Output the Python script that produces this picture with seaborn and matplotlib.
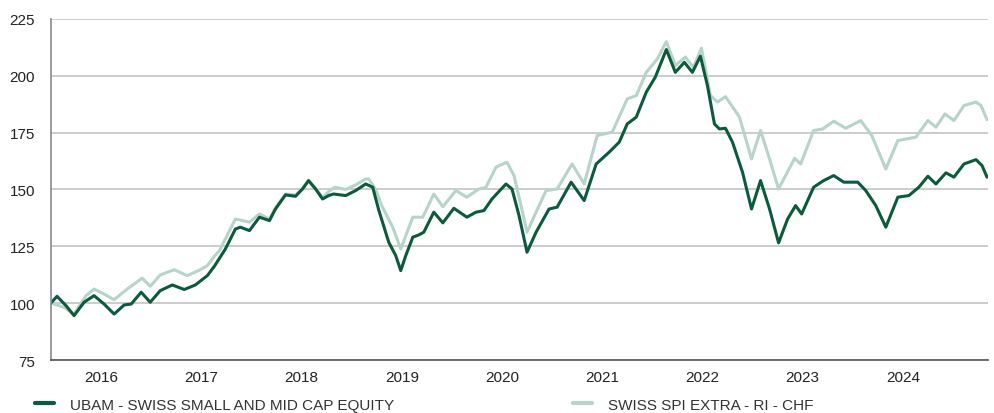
import pandas as pd
import numpy as np
import matplotlib
matplotlib.use("Agg")
import matplotlib.pyplot as plt
import seaborn as sns

# data (x in decimal years, y = rebased value)
ubam_years = [2016.00, 2016.06, 2016.15, 2016.23, 2016.33, 2016.43, 2016.53, 2016.63, 2016.73, 2016.80,
              2016.90, 2016.99, 2017.09, 2017.21, 2017.33, 2017.44, 2017.56, 2017.63, 2017.74, 2017.84,
              2017.89, 2017.98, 2018.08, 2018.18, 2018.24, 2018.34, 2018.44, 2018.51, 2018.57, 2018.64,
              2018.71, 2018.77, 2018.82, 2018.94, 2019.04, 2019.14, 2019.21, 2019.27, 2019.37, 2019.44,
              2019.49, 2019.54, 2019.61, 2019.67, 2019.72, 2019.82, 2019.91, 2020.02, 2020.15, 2020.24,
              2020.32, 2020.40, 2020.54, 2020.60, 2020.67, 2020.75, 2020.84, 2020.97, 2021.05, 2021.19,
              2021.32, 2021.44, 2021.57, 2021.67, 2021.75, 2021.84, 2021.94, 2022.03, 2022.14, 2022.23,
              2022.32, 2022.40, 2022.48, 2022.55, 2022.62, 2022.67, 2022.73, 2022.80, 2022.90, 2022.99,
              2023.08, 2023.17, 2023.26, 2023.35, 2023.43, 2023.49, 2023.61, 2023.71, 2023.81, 2023.91,
              2024.05, 2024.13, 2024.23, 2024.33, 2024.45, 2024.56, 2024.66, 2024.75, 2024.83, 2024.93,
              2025.01, 2025.11, 2025.23, 2025.29, 2025.34]
ubam_values = [100.1, 103.0, 98.9, 94.5, 100.4, 103.3, 99.6, 95.2, 99.2, 99.6,
               104.8, 100.4, 105.5, 108.0, 106.0, 108.0, 112.1, 116.2, 123.8, 132.6,
               133.4, 131.9, 137.8, 136.3, 141.4, 147.6, 147.0, 150.2, 153.9, 150.2,
               145.8, 147.3, 148.0, 147.3, 149.5, 152.4, 151.0, 141.0, 126.8, 120.9,
               114.3, 120.9, 129.0, 130.0, 131.2, 140.0, 135.3, 141.7, 137.8, 140.0,
               140.7, 145.8, 152.4, 150.2, 138.5, 122.4, 131.2, 141.4, 142.2, 153.2,
               145.1, 161.2, 166.4, 170.8, 178.8, 181.8, 192.8, 199.4, 211.5, 201.5,
               205.9, 201.5, 208.6, 195.7, 178.8, 176.6, 176.9, 170.8, 157.6, 141.4,
               153.9, 141.4, 126.5, 137.0, 142.9, 139.2, 151.0, 153.9, 156.1, 153.2,
               153.2, 149.5, 142.9, 133.4, 146.6, 147.3, 151.0, 155.8, 152.4, 157.3,
               155.4, 161.2, 163.1, 160.5, 155.4]

spi_years = [2016.00, 2016.13, 2016.23, 2016.35, 2016.43, 2016.53, 2016.63, 2016.76, 2016.91, 2016.99,
             2017.09, 2017.23, 2017.36, 2017.49, 2017.56, 2017.63, 2017.68, 2017.84, 2017.98, 2018.08,
             2018.18, 2018.24, 2018.34, 2018.44, 2018.51, 2018.57, 2018.64, 2018.71, 2018.77, 2018.83,
             2018.94, 2019.04, 2019.14, 2019.17, 2019.24, 2019.30, 2019.41, 2019.49, 2019.61, 2019.71,
             2019.82, 2019.91, 2020.04, 2020.15, 2020.27, 2020.34, 2020.44, 2020.55, 2020.62, 2020.69,
             2020.75, 2020.84, 2020.94, 2021.05, 2021.20, 2021.32, 2021.45, 2021.60, 2021.75, 2021.84,
             2021.94, 2022.05, 2022.14, 2022.23, 2022.33, 2022.41, 2022.49, 2022.58, 2022.65, 2022.73,
             2022.87, 2022.99, 2023.08, 2023.17, 2023.26, 2023.42, 2023.48, 2023.61, 2023.70, 2023.81,
             2023.93, 2024.08, 2024.19, 2024.33, 2024.45, 2024.63, 2024.75, 2024.83, 2024.92, 2025.01,
             2025.11, 2025.23, 2025.28, 2025.34]
spi_values = [100.0, 98.2, 95.2, 103.3, 106.2, 104.0, 101.5, 106.2, 111.0, 107.4,
              112.4, 114.7, 112.1, 114.7, 116.5, 120.6, 123.0, 137.0, 135.6, 139.2,
              137.0, 142.0, 148.0, 147.5, 150.5, 153.9, 150.5, 146.5, 149.0, 151.0,
              150.0, 152.0, 154.6, 154.6, 150.0, 142.9, 133.4, 123.8, 137.8, 137.8,
              148.0, 142.4, 149.5, 146.6, 150.2, 150.9, 159.8, 162.0, 156.1, 142.9,
              131.2, 140.0, 149.5, 150.2, 161.2, 152.4, 173.7, 175.2, 189.8, 191.3,
              201.5, 207.4, 215.0, 204.5, 208.2, 203.7, 212.1, 191.3, 188.4, 190.8,
              181.8, 163.4, 175.9, 163.4, 150.2, 163.7, 161.2, 175.9, 176.6, 180.0,
              176.9, 180.3, 173.7, 159.0, 171.5, 173.0, 180.3, 177.4, 183.2, 180.3,
              186.9, 188.4, 186.9, 180.7]

ubam_name = "UBAM - SWISS SMALL AND MID CAP EQUITY"
spi_name = "SWISS SPI EXTRA - RI - CHF"
year_labels = ["2016", "2017", "2018", "2019", "2020", "2021", "2022", "2023", "2024"]
y_ticks = [75, 100, 125, 150, 175, 200, 225]

df = pd.concat([
    pd.DataFrame({"year": ubam_years, "value": ubam_values, "series": ubam_name}),
    pd.DataFrame({"year": spi_years, "value": spi_values, "series": spi_name}),
])

sns.set_style("white")
plt.rcParams["font.family"] = ["Liberation Sans", "DejaVu Sans"]

fig = plt.figure(figsize=(9.94, 4.14), dpi=100)
ax = fig.add_axes([0.0513, 0.128, 0.9427, 0.824])

palette = {ubam_name: "#0b5a3b", spi_name: "#b6d4c9"}
sns.lineplot(data=df, x="year", y="value", hue="series", hue_order=[spi_name, ubam_name],
             palette=palette, estimator=None, sort=False, linewidth=2.2, ax=ax,
             legend=False, solid_joinstyle="round", solid_capstyle="round")

ax.set_xlim(2016.0, 2025.35)
ax.set_ylim(75, 225)
ax.set_yticks(y_ticks)
ax.set_xticks([int(y) + 0.5 for y in year_labels])
ax.set_xticklabels(year_labels)
ax.set_xlabel("")
ax.set_ylabel("")
ax.grid(axis="y", color="#c4c4c4", linewidth=1.2)
ax.grid(axis="x", visible=False)
ax.set_axisbelow(True)
ax.tick_params(axis="both", length=0, labelsize=11, colors="#222222")
ax.tick_params(axis="y", pad=11.5)
ax.tick_params(axis="x", pad=7)
for s in ["top", "right"]:
    ax.spines[s].set_visible(False)
ax.spines["left"].set_color("#8a8a8a")
ax.spines["left"].set_linewidth(1.2)
ax.spines["bottom"].set_color("#555555")
ax.spines["bottom"].set_linewidth(1.2)

handles = [plt.Line2D([], [], color=palette[ubam_name], linewidth=3),
           plt.Line2D([], [], color=palette[spi_name], linewidth=3)]
leg = fig.legend(handles, [ubam_name, spi_name], loc="lower left", ncol=2,
                 bbox_to_anchor=(0.021, -0.03), frameon=False, fontsize=11,
                 handlelength=1.3, handletextpad=1.0, columnspacing=11.7,
                 labelcolor="#333333")

fig.savefig("out.png", dpi=100)
